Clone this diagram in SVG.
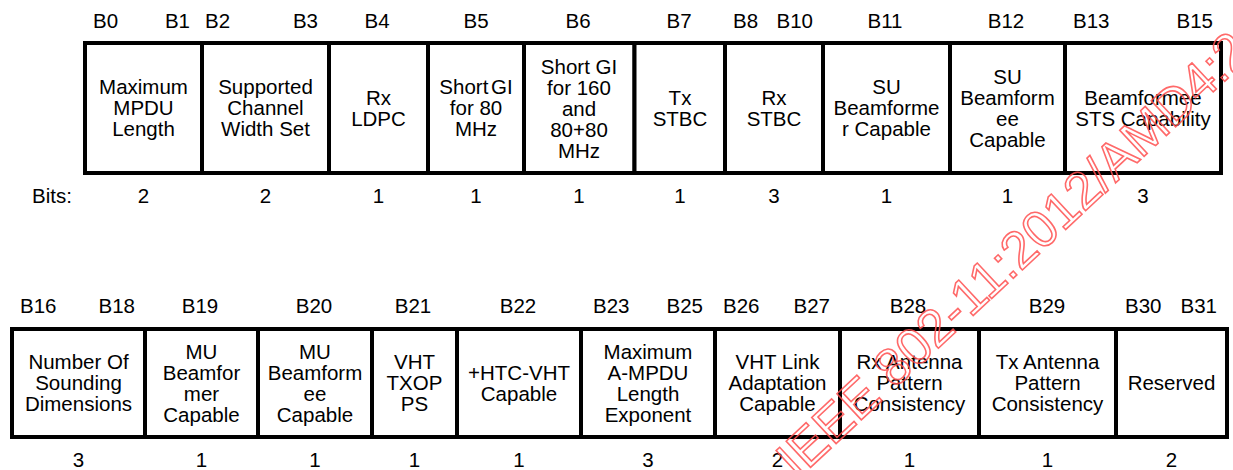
<svg xmlns="http://www.w3.org/2000/svg" width="1233" height="470" viewBox="0 0 1233 470">
<style>
  text { font-family: "Liberation Sans", Arial, sans-serif; font-size: 20.5px; fill: #000; }
  .c { text-anchor: middle; }
  .e { text-anchor: end; }
  .box { fill: #fff; stroke: #000; stroke-width: 4; }
  .wm { font-size: 52px; fill: none; stroke: #ff5050; stroke-width: 1.6; opacity: 0.85; }
</style>
<rect width="1233" height="470" fill="#fff"/>

<!-- Row 1 bit labels -->
<g id="row1-labels">
  <text x="93" y="28">B0</text>
  <text x="190" y="28" class="e">B1</text>
  <text x="205" y="28">B2</text>
  <text x="318" y="28" class="e">B3</text>
  <text x="377" y="28" class="c">B4</text>
  <text x="476" y="28" class="c">B5</text>
  <text x="578" y="28" class="c">B6</text>
  <text x="679" y="28" class="c">B7</text>
  <text x="733" y="28">B8</text>
  <text x="813" y="28" class="e">B10</text>
  <text x="885" y="28" class="c">B11</text>
  <text x="1006" y="28" class="c">B12</text>
  <text x="1073" y="28">B13</text>
  <text x="1213" y="28" class="e">B15</text>
</g>

<g id="f-max-mpdu">
  <rect class="box" x="85" y="43" width="117" height="130"/>
  <text class="c"><tspan x="143.5" y="94.3">Maximum</tspan><tspan x="143.5" dy="21">MPDU</tspan><tspan x="143.5" dy="21">Length</tspan></text>
</g>
<g id="f-chan-width">
  <rect class="box" x="202" y="43" width="127" height="130"/>
  <text class="c"><tspan x="265.5" y="94.3">Supported</tspan><tspan x="265.5" dy="21">Channel</tspan><tspan x="265.5" dy="21">Width Set</tspan></text>
</g>
<g id="f-rx-ldpc">
  <rect class="box" x="329" y="43" width="99" height="130"/>
  <text class="c"><tspan x="378.5" y="104.8">Rx</tspan><tspan x="378.5" dy="21">LDPC</tspan></text>
</g>
<g id="f-sgi80">
  <rect class="box" x="428" y="43" width="96" height="130"/>
  <text class="c"><tspan x="476" y="94.3" word-spacing="-3">Short GI</tspan><tspan x="476" dy="21">for 80</tspan><tspan x="476" dy="21">MHz</tspan></text>
</g>
<g id="f-sgi160">
  <rect class="box" x="524" y="43" width="110.5" height="130"/>
  <text class="c"><tspan x="579" y="73.8">Short GI</tspan><tspan x="579" dy="21">for 160</tspan><tspan x="579" dy="21">and</tspan><tspan x="579" dy="21">80+80</tspan><tspan x="579" dy="21">MHz</tspan></text>
</g>
<g id="f-tx-stbc">
  <rect class="box" x="634.5" y="43" width="90.5" height="130"/>
  <text class="c"><tspan x="680" y="104.8">Tx</tspan><tspan x="680" dy="21">STBC</tspan></text>
</g>
<g id="f-rx-stbc">
  <rect class="box" x="725" y="43" width="98" height="130"/>
  <text class="c"><tspan x="774" y="104.8">Rx</tspan><tspan x="774" dy="21">STBC</tspan></text>
</g>
<g id="f-su-bfr">
  <rect class="box" x="823" y="43" width="127" height="130"/>
  <text class="c"><tspan x="886.5" y="94.3">SU</tspan><tspan x="886.5" dy="21">Beamforme</tspan><tspan x="886.5" dy="21">r Capable</tspan></text>
</g>
<g id="f-su-bfe">
  <rect class="box" x="950" y="43" width="115" height="130"/>
  <text class="c"><tspan x="1007.5" y="83.8">SU</tspan><tspan x="1007.5" dy="21">Beamform</tspan><tspan x="1007.5" dy="21">ee</tspan><tspan x="1007.5" dy="21">Capable</tspan></text>
</g>
<g id="f-bfe-sts">
  <rect class="box" x="1065" y="43" width="156" height="130"/>
  <text class="c"><tspan x="1143" y="104.8">Beamformee</tspan><tspan x="1143" dy="21">STS Capability</tspan></text>
</g>

<g id="row1-bits">
  <text x="32" y="203">Bits:</text>
  <text x="143.5" y="203" class="c">2</text>
  <text x="265.5" y="203" class="c">2</text>
  <text x="378.5" y="203" class="c">1</text>
  <text x="476" y="203" class="c">1</text>
  <text x="579" y="203" class="c">1</text>
  <text x="680" y="203" class="c">1</text>
  <text x="774" y="203" class="c">3</text>
  <text x="886.5" y="203" class="c">1</text>
  <text x="1007.5" y="203" class="c">1</text>
  <text x="1143" y="203" class="c">3</text>
</g>

<!-- Row 2 -->
<g id="row2-labels">
  <text x="20" y="313">B16</text>
  <text x="135" y="313" class="e">B18</text>
  <text x="200" y="313" class="c">B19</text>
  <text x="314" y="313" class="c">B20</text>
  <text x="413" y="313" class="c">B21</text>
  <text x="518" y="313" class="c">B22</text>
  <text x="593" y="313">B23</text>
  <text x="703" y="313" class="e">B25</text>
  <text x="723" y="313">B26</text>
  <text x="830" y="313" class="e">B27</text>
  <text x="908" y="313" class="c">B28</text>
  <text x="1047" y="313" class="c">B29</text>
  <text x="1125" y="313">B30</text>
  <text x="1217" y="313" class="e">B31</text>
</g>

<g id="f-nsd">
  <rect class="box" x="12" y="329" width="133" height="108"/>
  <text class="c"><tspan x="78.5" y="369.3">Number Of</tspan><tspan x="78.5" dy="21">Sounding</tspan><tspan x="78.5" dy="21">Dimensions</tspan></text>
</g>
<g id="f-mu-bfr">
  <rect class="box" x="145" y="329" width="113" height="108"/>
  <text class="c"><tspan x="201.5" y="358.8">MU</tspan><tspan x="201.5" dy="21">Beamfor</tspan><tspan x="201.5" dy="21">mer</tspan><tspan x="201.5" dy="21">Capable</tspan></text>
</g>
<g id="f-mu-bfe">
  <rect class="box" x="258" y="329" width="114" height="108"/>
  <text class="c"><tspan x="315" y="358.8">MU</tspan><tspan x="315" dy="21">Beamform</tspan><tspan x="315" dy="21">ee</tspan><tspan x="315" dy="21">Capable</tspan></text>
</g>
<g id="f-txop-ps">
  <rect class="box" x="372" y="329" width="85" height="108"/>
  <text class="c"><tspan x="414.5" y="369.3">VHT</tspan><tspan x="414.5" dy="21">TXOP</tspan><tspan x="414.5" dy="21">PS</tspan></text>
</g>
<g id="f-htc-vht">
  <rect class="box" x="457" y="329" width="124" height="108"/>
  <text class="c"><tspan x="519" y="379.8">+HTC-VHT</tspan><tspan x="519" dy="21">Capable</tspan></text>
</g>
<g id="f-ampdu">
  <rect class="box" x="581" y="329" width="134" height="108"/>
  <text class="c"><tspan x="648" y="358.8">Maximum</tspan><tspan x="648" dy="21">A-MPDU</tspan><tspan x="648" dy="21">Length</tspan><tspan x="648" dy="21">Exponent</tspan></text>
</g>
<g id="f-link-adapt">
  <rect class="box" x="715" y="329" width="125" height="108"/>
  <text class="c"><tspan x="777.5" y="369.3">VHT Link</tspan><tspan x="777.5" dy="21">Adaptation</tspan><tspan x="777.5" dy="21">Capable</tspan></text>
</g>
<g id="f-rx-ant">
  <rect class="box" x="840" y="329" width="139" height="108"/>
  <text class="c"><tspan x="909.5" y="369.3">Rx Antenna</tspan><tspan x="909.5" dy="21">Pattern</tspan><tspan x="909.5" dy="21">Consistency</tspan></text>
</g>
<g id="f-tx-ant">
  <rect class="box" x="979" y="329" width="137" height="108"/>
  <text class="c"><tspan x="1047.5" y="369.3">Tx Antenna</tspan><tspan x="1047.5" dy="21">Pattern</tspan><tspan x="1047.5" dy="21">Consistency</tspan></text>
</g>
<g id="f-reserved">
  <rect class="box" x="1116" y="329" width="111" height="108"/>
  <text x="1171.5" y="390.3" class="c">Reserved</text>
</g>

<g id="row2-bits">
  <text x="78.5" y="467" class="c">3</text>
  <text x="201.5" y="467" class="c">1</text>
  <text x="315" y="467" class="c">1</text>
  <text x="414.5" y="467" class="c">1</text>
  <text x="519" y="467" class="c">1</text>
  <text x="648" y="467" class="c">3</text>
  <text x="777.5" y="467" class="c">2</text>
  <text x="909.5" y="467" class="c">1</text>
  <text x="1047.5" y="467" class="c">1</text>
  <text x="1171.5" y="467" class="c">2</text>
</g>

<g id="connectors"></g>

<g id="watermark">
  <text class="wm" x="797" y="480" transform="rotate(-43 797 480)">IEEE 802-11:2012/AMD4:20</text>
</g>
</svg>
